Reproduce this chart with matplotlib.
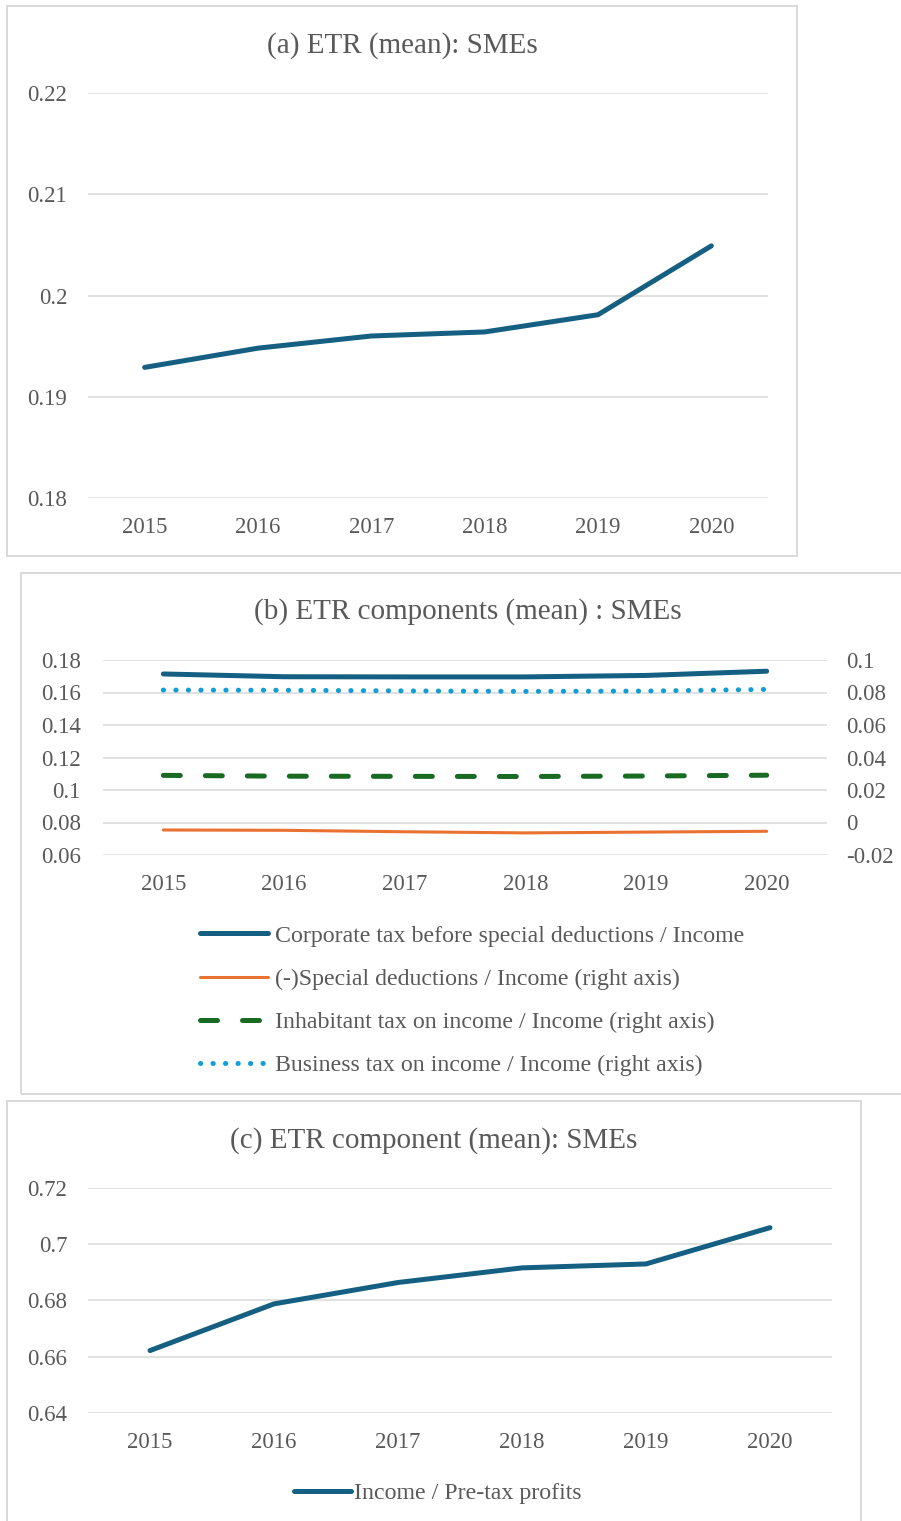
import matplotlib
matplotlib.use("Agg")
import matplotlib.pyplot as plt
from matplotlib.patches import Rectangle
from matplotlib.ticker import FuncFormatter

# data
years = ['2015', '2016', '2017', '2018', '2019', '2020']
etr = [0.1929, 0.1948, 0.1960, 0.1964, 0.1981, 0.2049]
corp = [0.1714, 0.1697, 0.1696, 0.1696, 0.1705, 0.1731]
special = [-0.0046, -0.0048, -0.0057, -0.0064, -0.0059, -0.0054]
inhabitant = [0.0290, 0.0285, 0.0284, 0.0283, 0.0286, 0.0291]
business = [0.0815, 0.0814, 0.0810, 0.0807, 0.0809, 0.0819]
income = [0.6622, 0.6788, 0.6864, 0.6916, 0.6930, 0.7059]

labels_b = ['Corporate tax before special deductions / Income',
            '(-)Special deductions / Income (right axis)',
            'Inhabitant tax on income / Income (right axis)',
            'Business tax on income / Income (right axis)']

blue = '#156082'
orange = '#E97132'
green = '#196B24'
lblue = '#0F9ED5'
txt = '#595959'
grid = '#D9D9D9'

plt.rcParams['font.family'] = ['Liberation Serif', 'DejaVu Serif']
plt.rcParams['text.color'] = txt

W, H = 901, 1521
fig = plt.figure(figsize=(W / 100, H / 100), dpi=100)


def box(x0, y0, x1, y1):
    # pixel box (top-left origin) -> figure fraction
    return [x0 / W, 1 - y1 / H, (x1 - x0) / W, (y1 - y0) / H]


def frame(x0, y0, x1, y1):
    fig.patches.append(Rectangle((x0 / W, 1 - y1 / H), (x1 - x0) / W, (y1 - y0) / H,
                                 transform=fig.transFigure, fill=False,
                                 edgecolor=grid, linewidth=1.4))


fmt = FuncFormatter(lambda v, p: '%g' % round(v, 4))


def style(ax, ymin, ymax, step, pad=15):
    x = range(len(years))
    ax.set_xlim(-0.5, len(years) - 0.5)
    ax.set_ylim(ymin, ymax)
    ax.set_xticks(list(x))
    ax.set_xticklabels(years)
    n = int(round((ymax - ymin) / step))
    ax.set_yticks([ymin + i * step for i in range(n + 1)])
    ax.yaxis.set_major_formatter(fmt)
    ax.tick_params(length=0, labelsize=16.5, colors=txt)
    ax.tick_params(axis='y', pad=pad)
    ax.tick_params(axis='x', pad=14)
    for s in ax.spines.values():
        s.set_visible(False)
    ax.grid(axis='y', color=grid, linewidth=1.1)
    ax.set_axisbelow(True)
    ax.patch.set_alpha(0)


# (a)
frame(7, 6, 797, 556)
ax1 = fig.add_axes(box(88, 93, 768, 498))
style(ax1, 0.18, 0.22, 0.01)
ax1.plot(range(6), etr, color=blue, linewidth=3.6, solid_capstyle='round')
fig.text(402 / W, 1 - 46 / H, '(a) ETR (mean): SMEs', ha='center', va='center', fontsize=21)

# (b)
frame(21, 573, 905, 1094)
ax2 = fig.add_axes(box(103, 660, 827, 855))
style(ax2, 0.06, 0.18, 0.02, pad=16)
ax2r = ax2.twinx()
ax2r.set_ylim(-0.02, 0.1)
ax2r.set_yticks([-0.02 + i * 0.02 for i in range(7)])
ax2r.yaxis.set_major_formatter(fmt)
ax2r.tick_params(length=0, labelsize=16.5, colors=txt, pad=14)
for s in ax2r.spines.values():
    s.set_visible(False)

l1, = ax2.plot(range(6), corp, color=blue, linewidth=3.6, solid_capstyle='round')
l2, = ax2r.plot(range(6), special, color=orange, linewidth=2.2, solid_capstyle='round')
l3, = ax2r.plot(range(6), inhabitant, color=green, linewidth=3.6,
                linestyle=(0, (3.4, 5)), dash_capstyle='round')
l4, = ax2r.plot(range(6), business, color=lblue, linewidth=3.6,
                linestyle=(0, (0.05, 2.45)), dash_capstyle='round')
fig.text(468 / W, 1 - 612 / H, '(b) ETR components (mean) : SMEs', ha='center', va='center', fontsize=21)
fig.legend([l1, l2, l3, l4], labels_b, loc='upper left',
           bbox_to_anchor=(200 / W, 1 - 925 / H), frameon=False, fontsize=17.2,
           handlelength=2.85, handletextpad=0.3, labelspacing=0.9,
           borderaxespad=0, borderpad=0, labelcolor=txt)

# (c)
frame(7, 1101, 861, 1530)
ax3 = fig.add_axes(box(88, 1188, 832, 1413))
style(ax3, 0.64, 0.72, 0.02)
l5, = ax3.plot(range(6), income, color=blue, linewidth=3.6, solid_capstyle='round')
fig.text(434 / W, 1 - 1141 / H, '(c) ETR component (mean): SMEs', ha='center', va='center', fontsize=21)
fig.legend([l5], ['Income / Pre-tax profits'], loc='center left',
           bbox_to_anchor=(294 / W, 1 - 1493 / H), frameon=False, fontsize=17.2,
           handlelength=2.4, handletextpad=0.1, borderaxespad=0, borderpad=0,
           labelcolor=txt)

fig.savefig('out.png', dpi=100)
